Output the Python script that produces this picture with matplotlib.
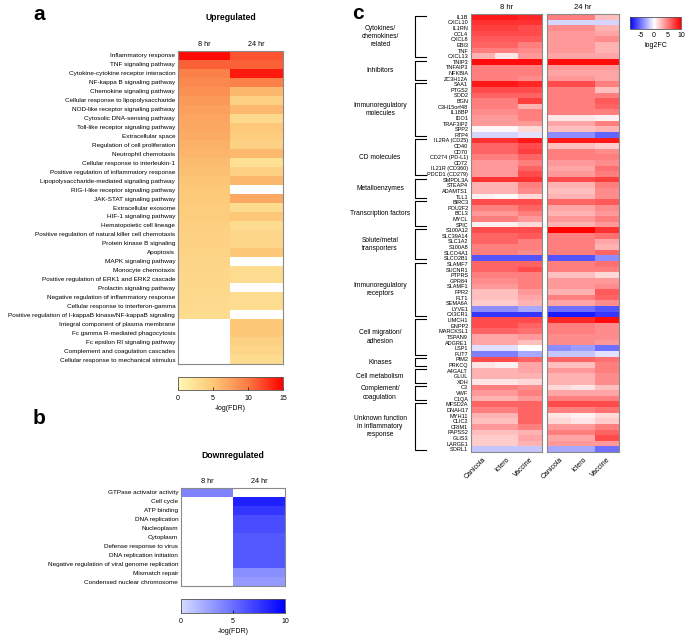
import numpy as np
import matplotlib
matplotlib.use("Agg")
import matplotlib.pyplot as plt
from matplotlib.colors import LinearSegmentedColormap, Normalize
import matplotlib.transforms as mtransforms

plt.rcParams['font.family'] = ['Liberation Sans', 'DejaVu Sans']
plt.rcParams['axes.unicode_minus'] = False

times = ["8 hr", "24 hr"]
serovars = ["Canicola", "Ictero", "Vaccine"]

up_terms = [
    "Inflammatory response", "TNF signaling pathway", "Cytokine-cytokine receptor interaction",
    "NF-kappa B signaling pathway", "Chemokine signaling pathway",
    "Cellular response to lipopolysaccharide", "NOD-like receptor signaling pathway",
    "Cytosolic DNA-sensing pathway", "Toll-like receptor signaling pathway",
    "Extracellular space", "Regulation of cell proliferation", "Neutrophil chemotaxis",
    "Cellular response to interleukin-1", "Positive regulation of inflammatory response",
    "Lipopolysaccharide-mediated signaling pathway", "RIG-I-like receptor signaling pathway",
    "JAK-STAT signaling pathway", "Extracellular exosome", "HIF-1 signaling pathway",
    "Hematopoietic cell lineage", "Positive regulation of natural killer cell chemotaxis",
    "Protein kinase B signaling", "Apoptosis", "MAPK signaling pathway",
    "Monocyte chemotaxis", "Positive regulation of ERK1 and ERK2 cascade",
    "Prolactin signaling pathway", "Negative regulation of inflammatory response",
    "Cellular response to interferon-gamma",
    "Positive regulation of I-kappaB kinase/NF-kappaB signaling",
    "Integral component of plasma membrane", "Fc gamma R-mediated phagocytosis",
    "Fc epsilon RI signaling pathway", "Complement and coagulation cascades",
    "Cellular response to mechanical stimulus",
]
up_8hr = [14.5, 11, 9.5, 9, 8.5, 8, 7.5, 7.2, 7, 6.8, 6.5, 6.2, 5.8, 5.5, 5.2, 5, 4.8,
          4.5, 4.4, 4.2, 4, 3.9, 3.8, 3.6, 3.5, 3.4, 3.3, 3.2, 3.1, 3.0,
          np.nan, np.nan, np.nan, np.nan, np.nan]
up_24hr = [11.5, 11, 14, 9.5, 6, 4, 6, 3.2, 5, 4.5, 4, 6, 2.5, 4, 6, np.nan, 7,
           3, 5, 3, 3.5, 3.5, 5, np.nan, 3, 3, np.nan, 3, 3, np.nan,
           5, 5, 4, 3.5, 3]

down_terms = [
    "GTPase activator activity", "Cell cycle", "ATP binding", "DNA replication",
    "Nucleoplasm", "Cytoplasm", "Defense response to virus", "DNA replication initiation",
    "Negative regulation of viral genome replication", "Mismatch repair",
    "Condensed nuclear chromosome",
]
down_8hr = [4, np.nan, np.nan, np.nan, np.nan, np.nan, np.nan, np.nan, np.nan, np.nan, np.nan]
down_24hr = [np.nan, 8.5, 7.5, 6.5, 6.5, 6, 6, 6, 6, 3.5, 3]

genes = [
    "IL1B", "CXCL10", "IL1RN", "CCL4", "CXCL8", "EBI3", "TNF", "CXCL13",
    "TNIP3", "TNFAIP3", "NFKBIA", "ZC3H12A",
    "SAA1", "PTGS2", "SOD2", "BGN", "C3H15orf48", "IL18BP", "IDO1", "TRAF3IP2", "SPP2", "RTP4",
    "IL2RA (CD25)", "CD40", "CD70", "CD274 (PD-L1)", "CD72", "IL21R (CD360)", "PDCD1 (CD279)",
    "SMPDL3A", "STEAP4", "ADAMTS1", "TLL1",
    "BIRC3", "POU2F2", "BCL3", "MYCL", "SPIC",
    "S100A12", "SLC39A14", "SLC1A2", "S100A8", "SLCO4A1", "SLCO2B1",
    "SLAMF7", "SUCNR1", "PTPRS", "GPR84", "SLAMF1", "FPR2", "FLT1", "SEMA6A", "LYVE1", "CX3CR1",
    "LIMCH1", "ENPP2", "MARCKSL1", "TSPAN9", "ADGRE1", "LSP1", "FUT7",
    "PIM2", "PRKCQ",
    "A4GALT", "GLUL", "XDH",
    "C3", "VWF", "C1QA",
    "MFSD2A", "DNAH17", "MYH11", "CLIC2", "CRIM1", "PAPSS2", "GLIS3", "LARGE1", "SORL1",
]
group_names = [
    "Cytokines/\nchemokines/\nrelated", "Inhibitors", "Immunoregulatory\nmolecules",
    "CD molecules", "Metalloenzymes", "Transcription factors", "Solute/metal\ntransporters",
    "Immunoregulatory\nreceptors", "Cell migration/\nadhesion", "Kinases", "Cell metabolism",
    "Complement/\ncoagulation", "Unknown function\nin inflammatory\nresponse",
]
group_sizes = [8, 4, 10, 7, 4, 5, 6, 10, 7, 2, 3, 3, 9]

# log2FC, columns Canicola / Ictero / Vaccine
fc_8hr = [
    [9, 9, 8.5], [8, 8, 8], [7.5, 7.5, 7], [7, 7, 7], [6.5, 6.5, 6.5], [6, 6, 5], [5, 5, 4.5], [3, 1, 4],
    [9.5, 9.5, 9.5], [5, 5, 5], [5, 5, 5], [5, 5, 4.5],
    [9, 9, 8.5], [7, 7, 7], [6, 6, 6], [5, 5, 7.5], [5, 5, 3], [4.5, 4.5, 5], [4, 4, 5], [4, 4, 4],
    [0.3, 0.3, 1.5], [-1.5, -1.5, -1],
    [8, 8, 9], [6, 6, 7], [6, 6, 7.5], [5, 5, 6], [4, 4, 5], [4, 4, 6], [4, 4, 7],
    [8, 8, 8], [3, 3, 5], [3, 3, 4.5], [0.5, 0.2, 1.5],
    [7, 7, 7], [5, 5, 6], [4, 4, 5], [5, 5, 4], [0.5, 0.5, 1.5],
    [7, 7, 7], [6, 6, 6.5], [6, 6, 5], [5, 5, 5], [5, 5, 4.5], [-6, -6, -6],
    [6, 6, 6], [6, 6, 7], [5, 5, 5], [4.5, 4.5, 5], [4, 4, 5], [2.5, 2.5, 4], [2.5, 2.5, 3.5],
    [2, 2, 3], [-4, -4, -3], [-7, -7, -7],
    [7, 7, 7], [7, 7, 6], [6, 6, 5.5], [3.5, 3.5, 4], [3.5, 3.5, 2.5], [-1, -1, 0], [-4.5, -4.5, -3],
    [7, 7, 6], [1, 0.5, 3.5],
    [3, 3, 3.5], [3, 3, 3], [1, 1, 1.5],
    [5, 5, 4.5], [4, 4, 5], [3, 3, 4],
    [6, 6, 6], [5, 5, 6], [3, 3, 6], [2.5, 2.5, 6], [4, 4, 5], [2.5, 2.5, 3], [2, 2, 3.5],
    [2, 2, 3], [-2, -2, -2],
]
fc_24hr = [
    [5, 5, 2.5], [-1.5, -1.5, -1.5], [4.5, 4.5, 3], [4, 4, 3.5], [4, 4, 4.5], [4, 4, 3], [4, 4, 3],
    [3.5, 3.5, 3.5],
    [9.5, 9.5, 9.5], [4, 4, 4], [3.5, 3.5, 3.5], [4, 4, 3.5],
    [7, 7, 5], [5, 5, 2.5], [5, 5, 5], [5, 5, 6.5], [5, 5, 6], [5, 5, 5], [1, 1, 0.5],
    [3.5, 3.5, 5], [2.5, 2.5, 3], [-4, -4, -5.5],
    [9, 9, 9], [2.5, 2.5, 2], [5, 5, 4.5], [5, 5, 5], [4, 4, 4.5], [3.5, 3.5, 5.5], [4, 4, 5],
    [7, 7, 7.5], [3, 3, 5], [2.5, 2.5, 4.5], [3, 3, 4.5],
    [6, 6, 6.5], [3.5, 3.5, 4.5], [3, 3, 4], [4, 4, 5], [3, 3, 4],
    [10, 10, 8], [5, 5, 5.5], [5, 5, 3.5], [5, 5, 3], [5, 5, 6], [-6, -6, -4],
    [5, 5, 5.5], [5, 5, 5], [2.5, 2.5, 1.5], [4, 4, 4], [4, 4, 4.5], [3, 3, 6.5], [5, 5, 6],
    [3.5, 3.5, 4.5], [-5, -5, -6], [-8, -8, -7],
    [8.5, 8.5, 9.5], [5, 5, 4.5], [5, 5, 4.5], [4.5, 4.5, 4.5], [4.5, 4.5, 4], [-4, -3.5, -5],
    [-2, -2, -1],
    [6, 6, 5.5], [2.5, 2.5, 5],
    [4, 4, 5], [3, 3, 4.5], [3, 3, 4.5],
    [1.5, 1, 2.5], [3.5, 3.5, 3.5], [5, 5, 5],
    [7, 7, 7], [5, 5, 5.5], [1, 0.5, 1.5], [1.5, 1, 2], [4, 4, 5], [5, 5, 6], [3.5, 3.5, 7],
    [4, 4, 4], [-3, -3, -5],
]

W, H = 685, 638
fig = plt.figure(figsize=(W / 100, H / 100), dpi=100)


def px_axes(x0, y0, x1, y1):
    return fig.add_axes([x0 / W, 1 - y1 / H, (x1 - x0) / W, (y1 - y0) / H])


def style_frame(ax):
    for s in ax.spines.values():
        s.set_color('#8a8a8a')
        s.set_linewidth(0.8)


cmap_up = LinearSegmentedColormap.from_list('up', ['#fff8b4', '#fdc877', '#fb7a45', '#ff0000'])
cmap_up.set_bad('white')
cmap_down = LinearSegmentedColormap.from_list('down', ['#d4dcff', '#0000ff'])
cmap_down.set_bad('white')
cmap_fc = LinearSegmentedColormap.from_list('fc', [(0, '#0000ff'), (9 / 19, '#ffffff'), (1, '#ff0000')])

# panel a
ax_a = px_axes(178, 51, 283, 364)
data_a = np.ma.masked_invalid(np.array([up_8hr, up_24hr]).T)
im_a = ax_a.imshow(data_a, cmap=cmap_up, vmin=0, vmax=15, aspect='auto', interpolation='nearest')
ax_a.set_yticks(range(len(up_terms)))
ax_a.set_yticklabels(up_terms, fontsize=4.6)
ax_a.xaxis.tick_top()
ax_a.set_xticks(range(2))
ax_a.set_xticklabels(times, fontsize=5.2)
ax_a.tick_params(length=0, pad=2)
style_frame(ax_a)
fig.text(231 / W, 1 - 18 / H, "Upregulated", fontsize=6.2, fontweight='bold', ha='center', va='center')

cax_a = px_axes(178, 377, 283, 390)
cb_a = fig.colorbar(im_a, cax=cax_a, orientation='horizontal', ticks=[0, 5, 10, 15])
cb_a.ax.tick_params(labelsize=5, length=2, width=0.5, direction='in')
cb_a.set_label('-log(FDR)', fontsize=5, labelpad=2)
cb_a.outline.set_edgecolor('#555555')
cb_a.outline.set_linewidth(0.6)

# panel b
ax_b = px_axes(181, 488, 285, 586)
data_b = np.ma.masked_invalid(np.array([down_8hr, down_24hr]).T)
im_b = ax_b.imshow(data_b, cmap=cmap_down, vmin=0, vmax=10, aspect='auto', interpolation='nearest')
ax_b.set_yticks(range(len(down_terms)))
ax_b.set_yticklabels(down_terms, fontsize=4.6)
ax_b.xaxis.tick_top()
ax_b.set_xticks(range(2))
ax_b.set_xticklabels(times, fontsize=5.2)
ax_b.tick_params(length=0, pad=2)
style_frame(ax_b)
fig.text(233 / W, 1 - 456 / H, "Downregulated", fontsize=6.2, fontweight='bold', ha='center', va='center')

cax_b = px_axes(181, 599, 285, 613)
cb_b = fig.colorbar(im_b, cax=cax_b, orientation='horizontal', ticks=[0, 5, 10])
cb_b.ax.tick_params(labelsize=5, length=2, width=0.5, direction='in')
cb_b.set_label('-log(FDR)', fontsize=5, labelpad=2)
cb_b.outline.set_edgecolor('#555555')
cb_b.outline.set_linewidth(0.6)

# panel c
norm_fc = Normalize(vmin=-9, vmax=10)
ax_c1 = px_axes(471, 14, 542, 452)
ax_c2 = px_axes(547, 14, 619, 452)
for ax, vals, t in [(ax_c1, fc_8hr, times[0]), (ax_c2, fc_24hr, times[1])]:
    im_c = ax.imshow(np.array(vals), cmap=cmap_fc, norm=norm_fc, aspect='auto', interpolation='nearest')
    ax.set_xticks(range(3))
    ax.set_xticklabels(serovars, fontsize=5, rotation=45, ha='right', rotation_mode='anchor')
    ax.tick_params(axis='x', length=0, pad=3)
    ax.text(0.5, 1.006, t, transform=ax.transAxes, ha='center', va='bottom', fontsize=5.5)
    style_frame(ax)
ax_c1.set_yticks(range(len(genes)))
ax_c1.set_yticklabels(genes, fontsize=4.0)
ax_c1.tick_params(axis='y', length=0, pad=2)
ax_c2.set_yticks([])

trans = mtransforms.blended_transform_factory(ax_c1.transAxes, ax_c1.transData)
start = 0
for name, n in zip(group_names, group_sizes):
    s, e = start - 0.2, start + n - 0.8
    ax_c1.plot([-0.64, -0.79, -0.79, -0.64], [s, s, e, e], color='black', lw=0.8,
               transform=trans, clip_on=False)
    ax_c1.text(-1.28, (s + e) / 2, name, transform=trans, ha='center', va='center',
               fontsize=4.8, linespacing=1.25)
    start += n

cax_c = px_axes(630, 17, 681, 29)
cb_c = fig.colorbar(im_c, cax=cax_c, orientation='horizontal', ticks=[-5, 0, 5, 10])
cb_c.ax.tick_params(labelsize=5, length=0, pad=2)
cb_c.set_label('log2FC', fontsize=5, labelpad=2)
cb_c.outline.set_edgecolor('#555555')
cb_c.outline.set_linewidth(0.6)

fig.text(33 / W, 1 - 20 / H, "a", fontsize=15, fontweight='bold')
fig.text(33 / W, 1 - 424 / H, "b", fontsize=15, fontweight='bold')
fig.text(352 / W, 1 - 19 / H, "c", fontsize=15, fontweight='bold')

fig.savefig("out.png", dpi=100)
